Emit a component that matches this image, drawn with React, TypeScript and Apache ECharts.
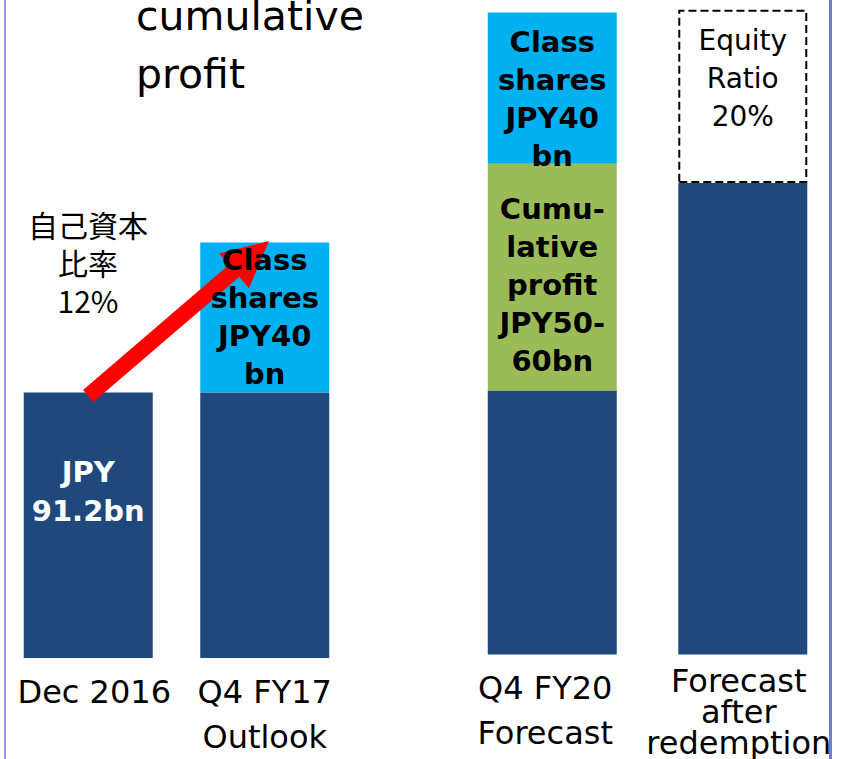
import React, { useEffect, useRef } from "react";
import * as echarts from "echarts";

// Categories (two groups, drawn in two grids)
const categoriesLeft = ["Dec 2016", "Q4 FY17\nOutlook"];
const categoriesRight = ["Q4 FY20\nForecast", "Forecast\nafter\nredemption"];

// Visual stack heights as drawn (schematic, same scale for all bars)
const equityBase = [91.2, 91.2, 91.2, 162.8];
const classShares = [null, 51.5, 52.2, null];
const cumulativeProfit = [null, null, 78.3, null];
const equityRatioTarget = [null, null, null, 59.8];
const yMax = 226;

// Arrow annotation (category index units on a hidden value axis, value units)
const arrowFrom = [0.5, 90];
const arrowTo = [1.425, 138.1];

// Texts
const titleText = "cumulative\nprofit";
const baseLabelText = "JPY\n91.2bn";
const classLabelText = "Class\nshares\nJPY40\nbn";
const cumLabelText = "Cumu-\nlative\nprofit\nJPY50-\n60bn";
const ratioLabelText = "Equity\nRatio\n20%";
const jpRatioText = "自己資本\n比率\n12%";

const NAVY = "#1F497D";
const CYAN = "#00B0F0";
const GREEN = "#9BBB59";
const FONT = "DejaVu Sans";

export default function App() {
  const ref = useRef<HTMLDivElement>(null);

  useEffect(() => {
    if (!ref.current) return;
    const chart = echarts.init(ref.current, undefined, { renderer: "svg" });

    const boldLabel = {
      show: true,
      fontFamily: FONT,
      fontSize: 29,
      fontWeight: "bold" as const,
      lineHeight: 38,
      color: "#000",
    };

    const common = {
      type: "bar" as const,
      barWidth: 129,
      barGap: "-100%",
      silent: true,
    };

    const axisLabel = {
      margin: 11,
      fontFamily: FONT,
      fontSize: 32,
      lineHeight: 45,
      color: "#000",
      interval: 0,
    };

    const option: any = {
      animation: false,
      backgroundColor: "#fff",
      title: {
        text: titleText,
        left: 136,
        top: -13,
        padding: 0,
        textStyle: {
          fontFamily: FONT,
          fontSize: 41,
          fontWeight: "normal",
          lineHeight: 58,
          color: "#000",
        },
      },
      grid: [
        { left: 0, top: 0, width: 353, height: 658 },
        { left: 457, top: 0, width: 382, height: 658 },
      ],
      xAxis: [
        {
          type: "category",
          gridIndex: 0,
          data: [
            { value: categoriesLeft[0], textStyle: { padding: [0, 0, 0, 12] } },
            categoriesLeft[1],
          ],
          axisLine: { show: false },
          axisTick: { show: false },
          splitLine: { show: false },
          axisLabel,
        },
        {
          type: "category",
          gridIndex: 1,
          data: [
            { value: categoriesRight[0], textStyle: { padding: [0, 14, 0, 0] } },
            { value: categoriesRight[1], textStyle: { lineHeight: 31, padding: [0, 8, 0, 0] } },
          ],
          axisLine: { show: false },
          axisTick: { show: false },
          splitLine: { show: false },
          axisLabel,
        },
        { type: "value", gridIndex: 0, min: 0, max: 2, show: false },
      ],
      yAxis: [
        { type: "value", gridIndex: 0, min: 0, max: yMax, show: false },
        { type: "value", gridIndex: 1, min: 0, max: yMax, show: false },
      ],
      graphic: [
        {
          type: "line",
          shape: { x1: 5, y1: 0, x2: 5, y2: 759 },
          style: { stroke: "#9494dc", lineWidth: 2 },
          silent: true,
        },
        {
          type: "line",
          shape: { x1: 830.5, y1: 0, x2: 830.5, y2: 759 },
          style: { stroke: "#7a7ad2", lineWidth: 3 },
          silent: true,
        },
        {
          type: "text",
          x: 88,
          y: 262,
          silent: true,
          style: {
            text: jpRatioText,
            fontFamily: "Noto Sans CJK JP",
            fontSize: 30,
            lineHeight: 38,
            fill: "#000",
            align: "center",
            verticalAlign: "middle",
            textAlign: "center",
            textVerticalAlign: "middle",
          },
        },
      ],
      series: [
        // Left grid
        {
          ...common,
          name: "Equity",
          xAxisIndex: 0,
          yAxisIndex: 0,
          stack: "left",
          itemStyle: { color: NAVY },
          data: equityBase.slice(0, 2).map((v, i) =>
            i === 0
              ? {
                  value: v,
                  label: {
                    ...boldLabel,
                    color: "#fff",
                    lineHeight: 39,
                    position: "insideTop",
                    distance: 60,
                    formatter: baseLabelText,
                  },
                }
              : v
          ),
        },
        {
          ...common,
          name: "Class shares",
          xAxisIndex: 0,
          yAxisIndex: 0,
          stack: "left",
          itemStyle: { color: CYAN },
          data: classShares.slice(0, 2),
        },
        {
          type: "lines",
          coordinateSystem: "cartesian2d",
          xAxisIndex: 2,
          yAxisIndex: 0,
          z: 3,
          silent: true,
          symbol: ["none", "triangle"],
          symbolSize: 46,
          lineStyle: { color: "#FF0000", width: 16, opacity: 1, curveness: 0 },
          data: [{ coords: [arrowFrom, arrowTo] }],
        },
        // Overlay (transparent) so the class-share label sits above the arrow
        {
          ...common,
          name: "ghostBase",
          xAxisIndex: 0,
          yAxisIndex: 0,
          stack: "ghost",
          z: 4,
          itemStyle: { color: "rgba(0,0,0,0)" },
          data: equityBase.slice(0, 2),
        },
        {
          ...common,
          name: "ghostClass",
          xAxisIndex: 0,
          yAxisIndex: 0,
          stack: "ghost",
          z: 4,
          itemStyle: { color: "rgba(0,0,0,0)" },
          label: { ...boldLabel, position: "inside", formatter: classLabelText },
          data: classShares.slice(0, 2),
        },
        // Right grid
        {
          ...common,
          name: "Equity R",
          xAxisIndex: 1,
          yAxisIndex: 1,
          stack: "right",
          itemStyle: { color: NAVY },
          data: equityBase.slice(2),
        },
        {
          ...common,
          name: "Cumulative profit",
          xAxisIndex: 1,
          yAxisIndex: 1,
          stack: "right",
          itemStyle: { color: GREEN },
          label: { ...boldLabel, position: "inside", offset: [0, 8], formatter: cumLabelText },
          data: cumulativeProfit.slice(2),
        },
        {
          ...common,
          name: "Class shares R",
          xAxisIndex: 1,
          yAxisIndex: 1,
          stack: "right",
          itemStyle: { color: CYAN },
          label: { ...boldLabel, position: "inside", offset: [0, 11], formatter: classLabelText },
          data: classShares.slice(2),
        },
        {
          ...common,
          name: "Equity ratio target",
          xAxisIndex: 1,
          yAxisIndex: 1,
          stack: "right",
          itemStyle: {
            color: "#fff",
            borderColor: "#000",
            borderWidth: 2,
            borderType: [8, 4],
          },
          label: {
            show: true,
            position: "insideTop",
            distance: 12,
            fontFamily: FONT,
            fontSize: 28,
            lineHeight: 38,
            color: "#000",
            formatter: ratioLabelText,
          },
          data: equityRatioTarget.slice(2),
        },
      ],
    };

    chart.setOption(option);
    return () => chart.dispose();
  }, []);

  return (
    <div
      ref={ref}
      style={{ position: "fixed", left: 0, top: 0, width: 842, height: 759 }}
    />
  );
}
